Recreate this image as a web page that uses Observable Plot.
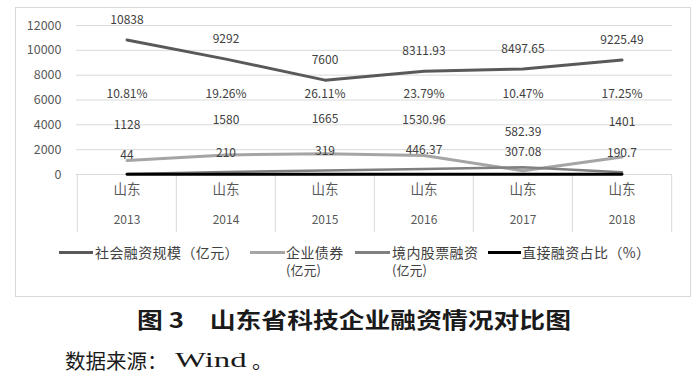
<!DOCTYPE html>
<html><head><meta charset="utf-8">
<script src="https://cdn.jsdelivr.net/npm/d3@7"></script>
<script src="https://cdn.jsdelivr.net/npm/@observablehq/plot@0.6"></script>
<style>
body{margin:0;width:700px;height:383px;position:relative;background:#fff;font-family:"Noto Sans CJK SC",sans-serif;overflow:hidden}
#frame{position:absolute;left:15px;top:7px;width:676px;height:290px;border:1px solid #d9d9d9;box-sizing:border-box}
#chart{position:absolute;left:0;top:0}
.lg{position:absolute;font-size:14px;color:#404040;line-height:14px;white-space:nowrap;letter-spacing:0.4px}
.lg2{position:absolute;font-size:13px;color:#404040;line-height:13px;white-space:nowrap}
.sw{position:absolute;height:3px;top:251px}
#title{position:absolute;left:354px;top:303px;font-size:21.5px;font-weight:bold;color:#1a1a1a;white-space:nowrap;transform:translateX(-50%) scaleX(1.2);transform-origin:center}
.cap{position:absolute;top:347px;font-size:20.5px;color:#1a1a1a;white-space:nowrap;line-height:26px}
</style></head>
<body>
<div id="frame"></div>
<div id="chart"></div>
<div class="sw" style="left:59px;width:34px;background:#595959"></div>
<div class="lg" style="left:95px;top:245px">社会融资规模（亿元）</div>
<div class="sw" style="left:250px;width:35px;background:#a5a5a5"></div>
<div class="lg" style="left:286px;top:245px">企业债券</div>
<div class="lg2" style="left:286px;top:263px">(亿元)</div>
<div class="sw" style="left:355px;width:35px;background:#808080"></div>
<div class="lg" style="left:392px;top:245px">境内股票融资</div>
<div class="lg2" style="left:392px;top:263px">(亿元)</div>
<div class="sw" style="left:488px;width:33px;background:#000"></div>
<div class="lg" style="left:522px;top:245px">直接融资占比（%）</div>
<div id="title">图 3　山东省科技企业融资情况对比图</div>
<div class="cap" style="left:65px">数据来源：</div>
<div class="cap" style="left:175px;font-family:'Liberation Serif',serif;transform:scaleX(1.6);transform-origin:left">Wind</div>
<div class="cap" style="left:252px">。</div>
<script>
const years = ["2013","2014","2015","2016","2017","2018"];
const region = "山东";
const social = [10838, 9292, 7600, 8311.93, 8497.65, 9225.49];
const bonds = [1128, 1580, 1665, 1530.96, 307.08, 1401];
const stocks = [44, 210, 319, 446.37, 582.39, 190.7];
const directPct = [10.81, 19.26, 26.11, 23.79, 10.47, 17.25];
const yTicks = [0, 2000, 4000, 6000, 8000, 10000, 12000];

const rows = years.map((year, i) => ({
  year, social: social[i], bonds: bonds[i], stocks: stocks[i], pct: directPct[i],
  upper: Math.max(bonds[i], stocks[i]), lower: Math.min(bonds[i], stocks[i])
}));

const W = 700, H = 240, mL = 76, mR = 28, mT = 25, mB = 66;
const bw = (W - mL - mR) / years.length;
const font = "'Noto Sans CJK SC', sans-serif";
const lab = {fontSize: 12, fill: "#404040", fontFamily: font};

const chart = Plot.plot({
  width: W, height: H,
  marginLeft: mL, marginRight: mR, marginTop: mT, marginBottom: mB,
  x: {type: "band", domain: years, padding: 0, axis: null},
  y: {domain: [0, 12000], axis: null},
  style: {fontFamily: font, background: "transparent", overflow: "visible"},
  marks: [
    Plot.gridY(yTicks, {stroke: "#d9d9d9", strokeOpacity: 1}),
    Plot.axisY({ticks: yTicks, tickSize: 0, tickPadding: 15, tickFormat: d => String(d), fontSize: 12.5, fill: "#595959"}),
    Plot.ruleX(years, {x: d => d, dx: -bw / 2, stroke: "#d9d9d9", insetTop: H - mT - mB, insetBottom: -58}),
    Plot.ruleX(years.slice(-1), {x: d => d, dx: bw / 2, stroke: "#d9d9d9", insetTop: H - mT - mB, insetBottom: -58}),
    Plot.text(years, {x: d => d, text: () => region, frameAnchor: "bottom", dy: 19, fontSize: 13.5, fill: "#595959"}),
    Plot.text(years, {x: d => d, text: d => d, frameAnchor: "bottom", dy: 49, fontSize: 12, fill: "#595959"}),
    Plot.lineY(rows, {x: "year", y: "social", stroke: "#595959", strokeWidth: 3}),
    Plot.lineY(rows, {x: "year", y: "bonds", stroke: "#a5a5a5", strokeWidth: 3}),
    Plot.lineY(rows, {x: "year", y: "stocks", stroke: "#808080", strokeWidth: 2.5}),
    Plot.lineY(rows, {x: "year", y: "pct", stroke: "#000", strokeWidth: 3}),
    Plot.text(rows, {x: "year", y: "social", text: d => String(d.social), dy: -20, ...lab}),
    Plot.text(rows, {x: "year", y: "pct", text: d => d.pct.toFixed(2) + "%", dy: -80, ...lab}),
    Plot.text(rows, {x: "year", y: "upper", text: d => String(d.upper), dy: -35, ...lab}),
    Plot.text(rows, {x: "year", y: "lower", text: d => String(d.lower), dy: -19, ...lab})
  ]
});
document.getElementById("chart").appendChild(chart);
</script>
</body></html>
